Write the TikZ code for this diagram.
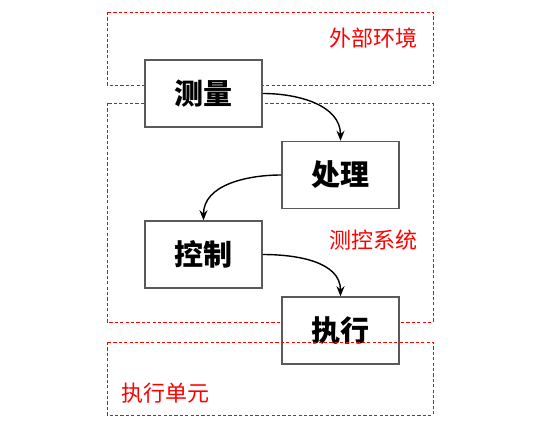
\documentclass[tikz,border=0pt]{standalone}
\usepackage{fontspec}
\newfontfamily\cjk{Noto Sans CJK SC}
\usetikzlibrary{arrows.meta}
\tikzset{
  zone/.style={draw=red, dash pattern=on 3.2pt off 2.2pt, line width=1pt},
  zonelabel/.style={text=red, font=\cjk\fontsize{22}{25}\selectfont, inner sep=0pt},
  blockbox/.style={draw=black!65, line width=1.5pt, fill=white, minimum width=117pt, minimum height=67pt, inner sep=0pt, font=\cjk\bfseries\fontsize{29}{32}\selectfont},
  flow/.style={-{Stealth[length=10pt,width=8pt]}, line width=1.4pt}
}
\begin{document}
\begin{tikzpicture}[x=1pt,y=-1pt]
\useasboundingbox (0,0) rectangle (536,442);
\draw[zone] (107,12) rectangle (433,85);
\draw[zone] (107,103) rectangle (433,322);
\node[zonelabel, anchor=east] (lext) at (418,38) {外部环境};
\node[zonelabel, anchor=east] (lsys) at (418,240) {测控系统};
\node (m) [blockbox] at (203.5,93.5) {测量};
\node (p) [blockbox] at (340.5,175) {处理};
\node (c) [blockbox] at (203.5,254.5) {控制};
\node (e) [blockbox] at (340.5,330.5) {执行};
\draw[zone] (107,342) rectangle (433,415);
\node[zonelabel, anchor=west] (lexec) at (121,393) {执行单元};
\draw[flow] (m.east) to[out=0,in=90] (p.north);
\draw[flow] (p.west) to[out=180,in=90] (c.north);
\draw[flow] (c.east) to[out=0,in=90] (e.north);
\end{tikzpicture}
\end{document}
